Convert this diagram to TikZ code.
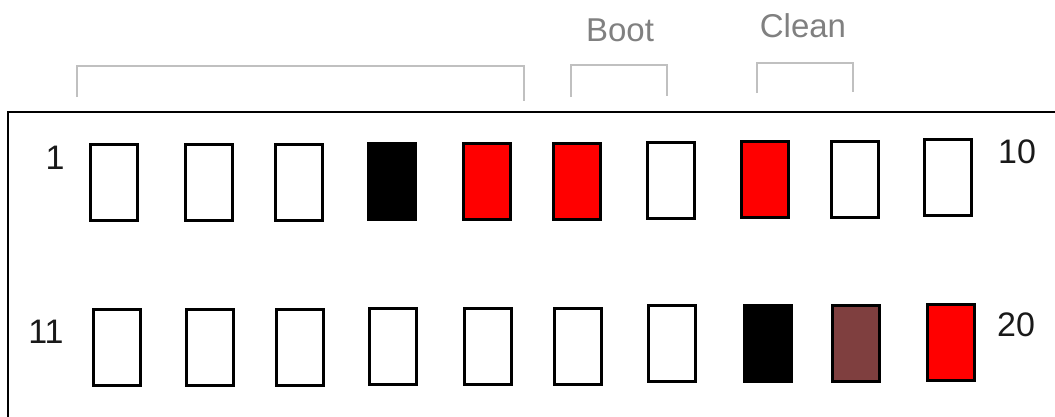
\documentclass[tikz,border=0pt]{standalone}
\usepackage{fontspec}
\setmainfont{Liberation Sans}
\definecolor{brgrey}{RGB}{192,192,192}
\definecolor{txgrey}{RGB}{128,128,128}
\definecolor{slotbrown}{RGB}{127,63,63}
\definecolor{numcol}{RGB}{25,25,25}
\tikzset{
  slot/.style={draw=black, line width=3pt, fill=white, minimum width=47pt, minimum height=76pt, inner sep=0pt},
  redslot/.style={slot, fill=red},
  blackslot/.style={slot, fill=black},
  brownslot/.style={slot, fill=slotbrown},
  numlabel/.style={inner sep=0pt, text=numcol, font=\fontsize{34pt}{36pt}\selectfont},
  grouplabel/.style={inner sep=0pt, text=txgrey, font=\fontsize{33pt}{35pt}\selectfont},
  bracket/.style={draw=brgrey, line width=2.5pt},
  frame/.style={draw=black, line width=2.5pt}
}
\begin{document}
\begin{tikzpicture}[x=1pt, y=-1pt]
\useasboundingbox (0,0) rectangle (1055,416);
% outer frame (continues beyond the right and bottom edges)
\coordinate (fbl) at (8,418);
\coordinate (ftl) at (8,112);
\coordinate (ftr) at (1057,112);
\draw[frame] (fbl) -- (ftl) -- (ftr);
% brackets
\coordinate (g1a) at (77,97);  \coordinate (g1b) at (77,66);
\coordinate (g1c) at (524,66); \coordinate (g1d) at (524,101);
\draw[bracket] (g1a) -- (g1b) -- (g1c) -- (g1d);
\coordinate (g2a) at (571,97);  \coordinate (g2b) at (571,65);
\coordinate (g2c) at (667,65);  \coordinate (g2d) at (667,96);
\draw[bracket] (g2a) -- (g2b) -- (g2c) -- (g2d);
\coordinate (g3a) at (757,93);  \coordinate (g3b) at (757,63);
\coordinate (g3c) at (853,63);  \coordinate (g3d) at (853,92);
\draw[bracket] (g3a) -- (g3b) -- (g3c) -- (g3d);
\node[grouplabel] (boot) at (620,30) {Boot};
\node[grouplabel] (clean) at (803,26) {Clean};
% row 1
\node[slot]      (b1)  at (114,182.5) {};
\node[slot]      (b2)  at (209,182.5) {};
\node[slot]      (b3)  at (299,182.5) {};
\node[blackslot] (b4)  at (392,181) {};
\node[redslot]   (b5)  at (487,181.5) {};
\node[redslot]   (b6)  at (576.5,181.5) {};
\node[slot]      (b7)  at (671,180) {};
\node[redslot]   (b8)  at (765,179.5) {};
\node[slot]      (b9)  at (855,179.5) {};
\node[slot]      (b10) at (948,177) {};
% row 2
\node[slot]      (b11) at (116.5,347.5) {};
\node[slot]      (b12) at (210,347.5) {};
\node[slot]      (b13) at (300,347.5) {};
\node[slot]      (b14) at (393,346.5) {};
\node[slot]      (b15) at (488,346.5) {};
\node[slot]      (b16) at (578,346) {};
\node[slot]      (b17) at (672,343.5) {};
\node[blackslot] (b18) at (768,343) {};
\node[brownslot] (b19) at (856,343.5) {};
\node[redslot]   (b20) at (951,342) {};
% numbers
\node[numlabel] (n1)  at (55,158) {1};
\node[numlabel] (n10) at (1017,152) {10};
\node[numlabel] (n11) at (46,332) {11};
\node[numlabel] (n20) at (1016,325) {20};
\end{tikzpicture}
\end{document}
